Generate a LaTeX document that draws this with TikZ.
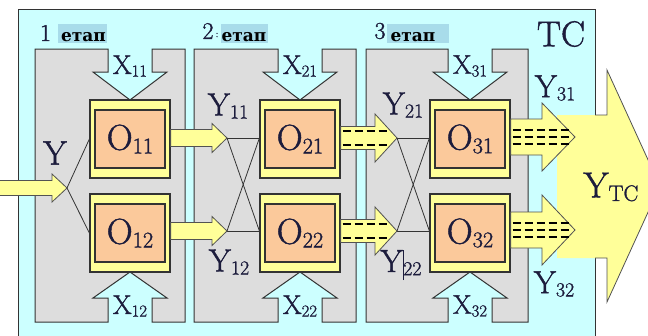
\documentclass[tikz,border=0pt]{standalone}
\usepackage{fontspec}
\newfontfamily\cyr{DejaVu Serif}
\newfontfamily\tnr{Latin Modern Roman}[FakeBold=1.3]
\usetikzlibrary{calc}

\definecolor{skyfill}{HTML}{CCFFFF}
\definecolor{stagefill}{HTML}{DDDDDD}
\definecolor{framefill}{HTML}{FFFF99}
\definecolor{corefill}{HTML}{FBC99B}
\definecolor{tagfill}{HTML}{A8DCEA}
\definecolor{ink}{HTML}{1C1C3C}
\definecolor{edge}{HTML}{333333}

% lowered, reduced index
\newcommand\ix[1]{\raisebox{-0.1em}{\scalebox{0.62}{#1}}}

% fat arrow: #1 start anchor, #2 tip coordinate, #3 head length,
% #4 shaft half-width, #5 head half-width
\newcommand\yarrow[5]{%
  \coordinate (ya-s) at (#1 |- #2);
  \draw[yarr] ($(ya-s)+(0,-#4)$) -- ($(#2)+(-#3,-#4)$) -- ($(#2)+(-#3,-#5)$)
    -- (#2) -- ($(#2)+(-#3,#5)$) -- ($(#2)+(-#3,#4)$) -- ($(ya-s)+(0,#4)$) -- cycle;}

\begin{document}
\begin{tikzpicture}[x=1pt,y=-1pt,
  outerbox/.style={fill=skyfill,draw=edge,line width=1pt},
  stagebox/.style={fill=stagefill,draw=edge,line width=1pt,line join=miter},
  oframe/.style={fill=framefill,draw=edge,line width=1.2pt,minimum width=80pt,minimum height=78pt,inner sep=0pt},
  ocore/.style={fill=corefill,draw=edge,line width=1.2pt,minimum width=70pt,minimum height=58pt,inner sep=0pt,text=ink,font=\tnr\fontsize{36}{36}\selectfont},
  yarr/.style={fill=framefill,draw=edge!85,line width=0.8pt,line join=miter},
  wire/.style={draw=edge,line width=0.8pt},
  dsh/.style={draw=black,line width=1.3pt,dash pattern=on 8pt off 4pt},
  lbl/.style={text=ink,inner sep=0pt,font=\tnr\fontsize{32}{32}\selectfont},
  biglbl/.style={text=ink,inner sep=0pt,font=\tnr\fontsize{36}{36}\selectfont},
  xlbl/.style={text=ink,inner sep=0pt,font=\tnr\fontsize{27}{27}\selectfont},
  numlbl/.style={text=ink,inner sep=0pt,font=\tnr\fontsize{24}{24}\selectfont},
  taglbl/.style={text=black,inner sep=0pt,font=\cyr\fontsize{17}{17}\selectfont\bfseries},
]
\useasboundingbox (0,0) rectangle (648,335);
\clip (0,0) rectangle (648,335);

% system frame
\draw[outerbox] (18,9) rectangle (595,350);

% system output arrow
\fill[framefill] (557,115) -- (607,115) -- (607,70) -- (660,186) -- (607,302) -- (607,258) -- (557,258) -- cycle;
\draw[edge!85,line width=0.8pt,line join=miter] (595,115) -- (607,115) -- (607,70) -- (660,186) -- (607,302) -- (607,258) -- (595,258);

% stage panels with the input notches X
\foreach \L/\R/\c in {35/185/130, 194/356/300, 366/528/470}{
  \draw[stagebox] (\L,49) -- (\c-22,49) -- (\c-22,72) -- (\c-37,72) -- (\c,100)
    -- (\c+37,72) -- (\c+22,72) -- (\c+22,49) -- (\R,49) -- (\R,322)
    -- (\c+22,322) -- (\c+22,298) -- (\c+37,298) -- (\c,272) -- (\c-37,298)
    -- (\c-22,298) -- (\c-22,322) -- (\L,322) -- cycle;
}

% stage headers
\fill[tagfill] (58,24) rectangle (107,43);
\fill[tagfill] (221,24) rectangle (268,43);
\fill[tagfill] (387,24) rectangle (449,43);
\node[numlbl] (n1) at (45.5,33) {1};
\node[numlbl] (n2) at (208,31) {2};
\node[text=ink,inner sep=0pt,font=\tnr\fontsize{10}{10}\selectfont] (n2c) at (217,35) {:};
\node[numlbl] (n3) at (380,31) {3};
\node[taglbl] (e1) at (83.5,37) {етап};
\node[taglbl] (e2) at (244,37) {етап};
\node[taglbl] (e3) at (413,37) {етап};

% operators
\node[oframe] (f11) at (130,139) {};
\node[ocore]  (o11) at (f11) {O\ix{11}};
\node[oframe] (f12) at (130,233) {};
\node[ocore]  (o12) at (f12) {O\ix{12}};
\node[oframe] (f21) at (300,139) {};
\node[ocore]  (o21) at (f21) {O\ix{21}};
\node[oframe] (f22) at (300,233) {};
\node[ocore]  (o22) at (f22) {O\ix{22}};
\node[oframe] (f31) at (470,139) {};
\node[ocore]  (o31) at (f31) {O\ix{31}};
\node[oframe] (f32) at (470,233) {};
\node[ocore]  (o32) at (f32) {O\ix{32}};

% arrow tips
\coordinate (src) at (-10,188);
\coordinate (tin) at (67,188);
\coordinate (t11) at (227,138);
\coordinate (t12) at (227,231);
\coordinate (t21) at (397,138);
\coordinate (t22) at (397,231);
\coordinate (t31) at (575,137);
\coordinate (t32) at (575,230);

% distribution wires
\draw[wire] (tin) -- (f11.west);
\draw[wire] (tin) -- (f12.west);
\draw[wire] (t11) -- (f21.west |- t11);
\draw[wire] (t11) -- (f22.west |- t12);
\draw[wire] (t12) -- (f22.west |- t12);
\draw[wire] (t12) -- (f21.west |- t11);
\draw[wire] (t21) -- (f31.west |- t21);
\draw[wire] (t21) -- (f32.west |- t22);
\draw[wire] (t22) -- (f32.west |- t22);
\draw[wire] (t22) -- (f31.west |- t21);

% flows
\yarrow{src}{tin}{15}{7.5}{14}
\yarrow{f11.east}{t11}{15}{8.5}{14.5}
\yarrow{f12.east}{t12}{15}{8.5}{14.5}
\yarrow{f21.east}{t21}{22}{11.5}{24}
\yarrow{f22.east}{t22}{22}{11.5}{24}
\yarrow{f31.east}{t31}{33}{18}{34}
\yarrow{f32.east}{t32}{33}{18}{35}

% multi-channel markings
\foreach \f/\t in {f21/t21, f22/t22}{
  \foreach \d in {-7,7}{
    \draw[dsh] ($(\f.east |- \t)+(2,\d)$) -- ($(\t)+(-10,\d)$);
  }
}
\foreach \f/\t in {f31/t31, f32/t32}{
  \foreach \d in {-7,0,7}{
    \draw[dsh] ($(\f.east |- \t)+(2,\d)$) -- ($(\t)+(-6,\d)$);
  }
}

% labels
\node[lbl,font=\tnr\fontsize{34}{34}\selectfont] (ly) at (55,153) {Y};
\node[lbl] (ly11) at (228,106) {Y\ix{11}};
\node[lbl] (ly12) at (229,262) {Y\ix{12}};
\node[lbl] (ly21) at (403,105) {Y\ix{21}};
\node[lbl] (ly22) at (401,265) {Y\rule[-8pt]{0.6pt}{30pt}\ix{22}};
\node[lbl] (ly31) at (555,88) {Y\ix{31}};
\node[lbl] (ly32) at (554,284) {Y\ix{32}};
\node[xlbl] (lx11) at (130,66) {X\ix{11}};
\node[xlbl] (lx12) at (130,306) {X\ix{12}};
\node[xlbl] (lx21) at (300,66) {X\ix{21}};
\node[xlbl] (lx22) at (300,306) {X\ix{22}};
\node[xlbl] (lx31) at (470,66) {X\ix{31}};
\node[xlbl] (lx32) at (470,306) {X\ix{32}};
\node[biglbl] (ltc) at (561,34) {TC};
\node[biglbl] (lytc) at (611,187) {Y\ix{TC}};
\end{tikzpicture}
\end{document}
